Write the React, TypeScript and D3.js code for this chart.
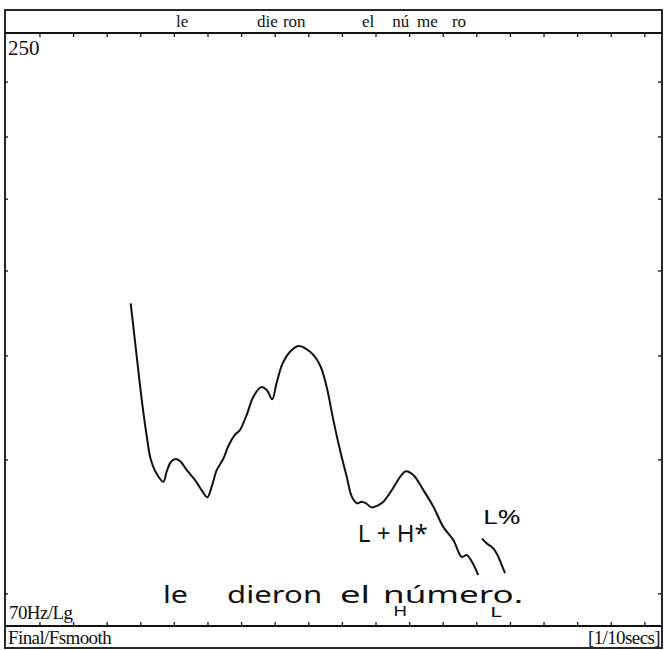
import * as d3 from 'd3';

// F0 contour (time in 1/10 s, frequency in Hz)
const contourTime = [
  3.70, 3.88, 4.03, 4.18, 4.29, 4.47, 4.67, 4.77, 4.90, 5.05, 5.19, 5.37, 5.61, 5.81, 5.98,
  6.11, 6.26, 6.46, 6.60, 6.80, 6.95, 7.15, 7.35, 7.58, 7.75, 7.91, 8.04, 8.22, 8.44, 8.69,
  9.04, 9.33, 9.53, 9.73, 9.93, 10.13, 10.28, 10.43, 10.57, 10.70, 10.87, 11.03, 11.22, 11.39,
  11.57, 11.74, 11.89, 12.11, 12.41, 12.71, 13.00, 13.30, 13.55, 13.70, 13.85, 14.04,
];
const contourHz = [
  139.9, 124.8, 113.7, 105.1, 100.3, 97.1, 95.4, 97.5, 99.6, 100.2, 99.6, 97.8, 95.8, 93.7, 92.3,
  94.4, 97.8, 100.3, 102.9, 105.5, 106.6, 110.1, 114.5, 116.9, 116.2, 113.9, 117.9, 123.0, 126.1, 127.7,
  126.1, 122.6, 117.0, 108.9, 102.1, 96.4, 92.4, 91.1, 91.4, 91.1, 90.3, 90.6, 91.4, 92.9,
  94.8, 96.6, 97.6, 96.8, 93.7, 90.4, 86.6, 84.2, 81.2, 81.5, 80.4, 78.1,
];
// short trailing stroke after the main contour
const tailTime = [14.15, 14.29, 14.49, 14.64, 14.74, 14.84];
const tailHz = [84.5, 83.6, 82.7, 81.2, 79.8, 78.4];

// syllable labels along the top (start time of each label)
const syllables = ['le', 'die', 'ron', 'el', 'nú', 'me', 'ro'];
const syllableTime = [5.05, 7.46, 8.23, 10.58, 11.48, 12.22, 13.26];

const timeTicks = [1, 2, 3, 4, 5, 6, 7, 8, 9, 10, 11, 12, 13, 14, 15, 16, 17, 18, 19];
const freqTicks = [75, 100, 125, 150, 175, 200, 225];
const freqMin = 70;
const freqMax = 250;

// handwritten notes: text, start time, Hz at baseline
const handText = ['le', 'dieron', 'el', 'número.', 'L + H*', 'L%', 'H', 'L'];
const handTime = [4.66, 6.57, 9.93, 11.21, 10.46, 14.18, 11.51, 14.39];
const handHz = [73.6, 73.6, 73.6, 73.6, 83.8, 87.1, 71.45, 71.3];
const handSize = [24, 24, 24, 24, 24, 20, 14, 14];
const handLen = [25, 95, 30, 140, 70, 38, 14, 12];

const W = 666;
const H = 650;
const left = 5;
const right = 662;
const frameTop = 10;
const plotTop = 33;
const plotBottom = 626;
const frameBottom = 648;

export default function App() {
  const x = d3.scaleLinear().domain([-0.04, 19.51]).range([left, right]);
  const y = d3.scaleLog().domain([freqMin, freqMax]).range([plotBottom, plotTop]);

  const line = d3
    .line<number>()
    .x((_, i) => x(contourTime[i]))
    .y((d) => y(d))
    .curve(d3.curveCatmullRom);
  const tail = d3
    .line<number>()
    .x((_, i) => x(tailTime[i]))
    .y((d) => y(d))
    .curve(d3.curveCatmullRom);

  const serif = '"Liberation Serif", "DejaVu Serif", serif';
  const hand = '"Noto Sans", "DejaVu Sans", sans-serif';
  const ink = '#111';

  return (
    <>
      <style>{`body{margin:0} svg text{-webkit-font-smoothing:antialiased}`}</style>
      <svg width={W} height={H} viewBox={`0 0 ${W} ${H}`} style={{ display: 'block', background: '#fff' }}>
        {/* frame */}
        <rect x={left} y={frameTop} width={right - left} height={frameBottom - frameTop} fill="none" stroke={ink} strokeWidth={1.8} />
        <line x1={left} x2={right} y1={plotTop} y2={plotTop} stroke={ink} strokeWidth={1.8} />
        <line x1={left} x2={right} y1={plotBottom} y2={plotBottom} stroke={ink} strokeWidth={1.8} />

        {/* time ticks, top and bottom */}
        {timeTicks.map((t) => (
          <g key={`t-${t}`}>
            <line x1={x(t)} x2={x(t)} y1={plotTop} y2={plotTop + 4} stroke={ink} strokeWidth={1.3} />
            <line x1={x(t)} x2={x(t)} y1={plotBottom} y2={plotBottom - 4} stroke={ink} strokeWidth={1.3} />
          </g>
        ))}

        {/* frequency ticks, left and right */}
        {freqTicks.map((f) => (
          <g key={`f-${f}`}>
            <line x1={left} x2={left + 3} y1={y(f)} y2={y(f)} stroke={ink} strokeWidth={1.3} />
            <line x1={right} x2={right - 4} y1={y(f)} y2={y(f)} stroke={ink} strokeWidth={1.3} />
          </g>
        ))}

        {/* syllables */}
        {syllables.map((s, i) => (
          <text key={`s-${i}`} x={x(syllableTime[i])} y={27} fontFamily={serif} fontSize={17} fill={ink}>
            {s}
          </text>
        ))}

        {/* axis texts */}
        <text x={8} y={55} fontFamily={serif} fontSize={21} fill={ink}>{freqMax}</text>
        <text x={9} y={619} fontFamily={serif} fontSize={19} fill={ink} letterSpacing={-0.6}>{`${freqMin}Hz/Lg`}</text>
        <text x={8} y={644} fontFamily={serif} fontSize={19} fill={ink} letterSpacing={-0.6}>Final/Fsmooth</text>
        <text x={660} y={644} textAnchor="end" fontFamily={serif} fontSize={19} fill={ink} letterSpacing={-0.6}>[1/10secs]</text>

        {/* F0 contour */}
        <path d={line(contourHz) ?? ''} fill="none" stroke={ink} strokeWidth={2} strokeLinejoin="round" />
        <path d={tail(tailHz) ?? ''} fill="none" stroke={ink} strokeWidth={2} strokeLinejoin="round" />

        {/* handwritten annotations */}
        {handText.map((s, i) => (
          <text
            key={`h-${i}`}
            x={x(handTime[i])}
            y={y(handHz[i])}
            fontFamily={hand}
            fontSize={handSize[i]}
            fill={ink}
            textLength={handLen[i]}
            lengthAdjust="spacingAndGlyphs"
          >
            {s}
          </text>
        ))}
      </svg>
    </>
  );
}
